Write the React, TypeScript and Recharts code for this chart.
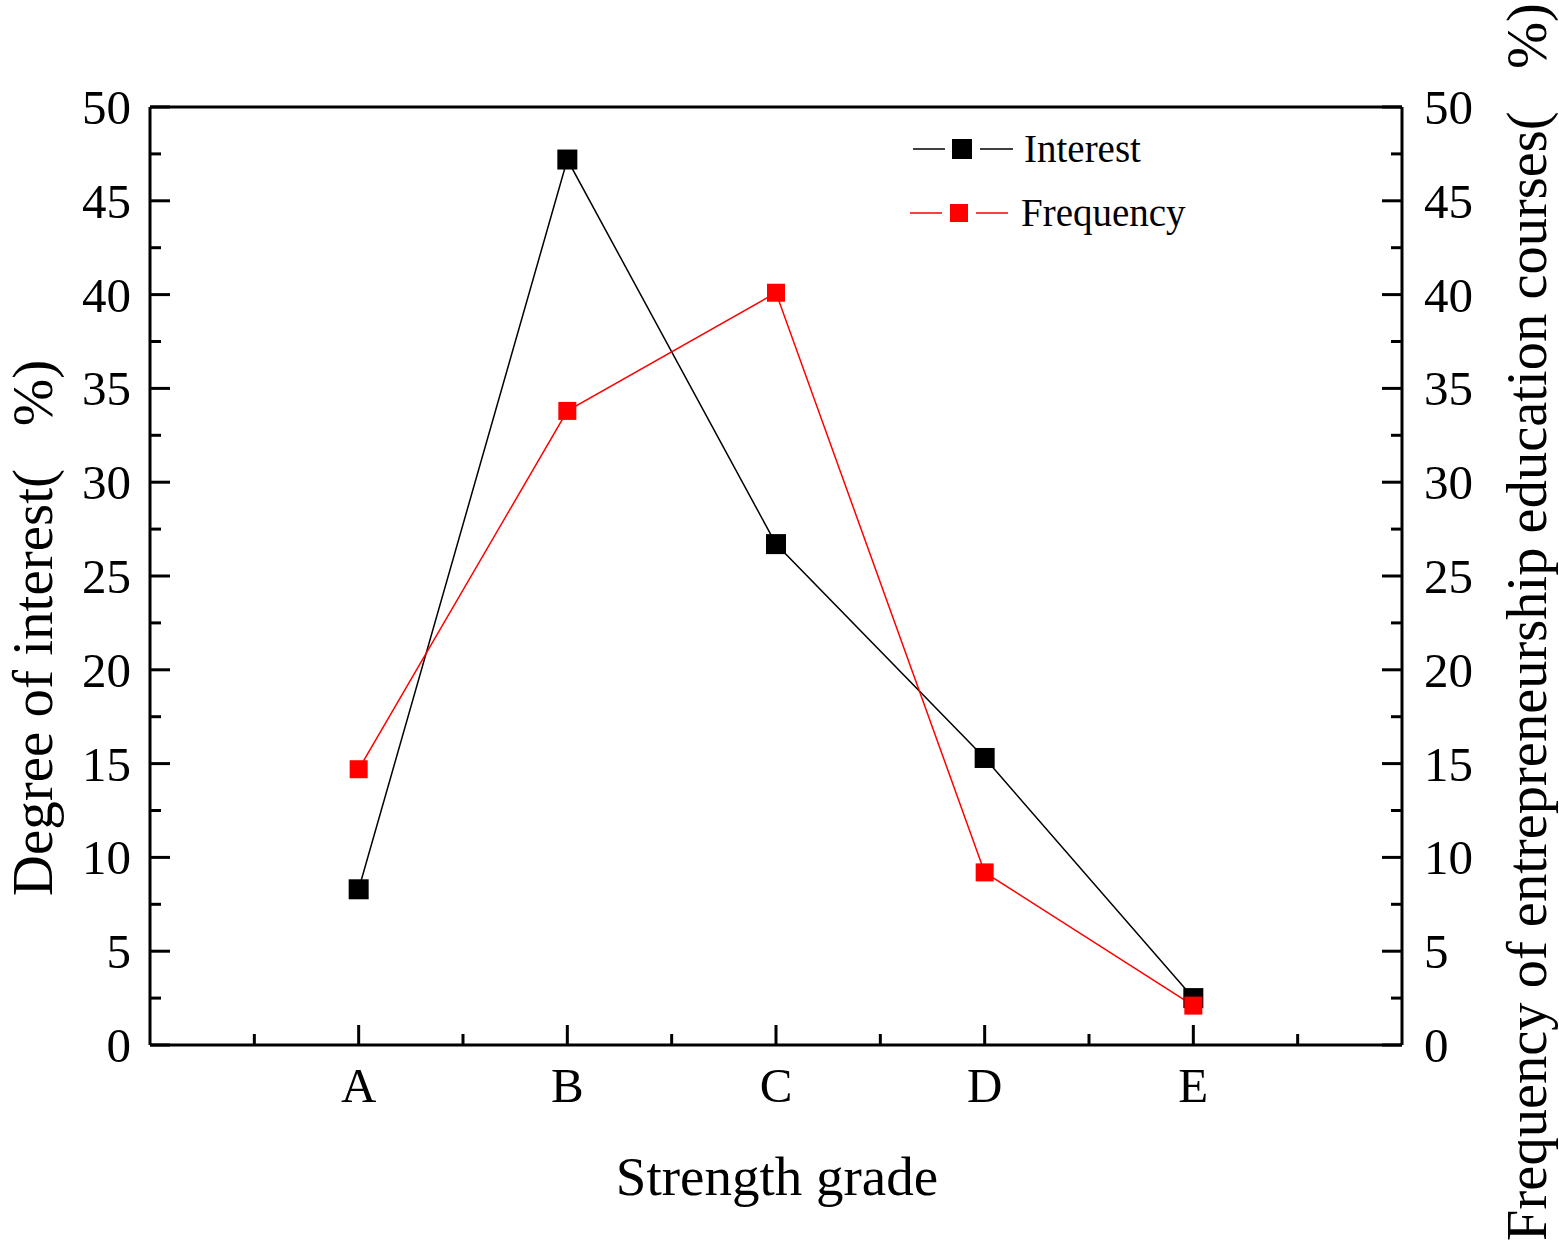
import React from 'react';
import { LineChart, Line, XAxis, YAxis, Legend, ReferenceLine } from 'recharts';

const categories = ['A', 'B', 'C', 'D', 'E'];
const interest = [8.3, 47.2, 26.7, 15.3, 2.5];
const frequency = [14.7, 33.8, 40.1, 9.2, 2.1];
const xTicks = [0.5, 1, 1.5, 2, 2.5, 3, 3.5, 4, 4.5, 5, 5.5];
const yTicks = [0, 2.5, 5, 7.5, 10, 12.5, 15, 17.5, 20, 22.5, 25, 27.5, 30, 32.5, 35, 37.5, 40, 42.5, 45, 47.5, 50];

const data = categories.map((c, i) => ({
  pos: i + 1,
  name: c,
  interest: interest[i],
  frequency: frequency[i],
}));

const FONT = '"Liberation Serif", "Times New Roman", serif';

const XTick = (props: any) => {
  const { x, y, payload } = props;
  const v = payload.value;
  const major = Number.isInteger(v);
  return (
    <g>
      <line x1={x} x2={x} y1={y} y2={y - (major ? 20 : 11)} stroke="#000" strokeWidth={3} />
      {major && (
        <text x={x} y={y + 57} textAnchor="middle" fontSize={49} fontFamily={FONT} fill="#000">
          {categories[v - 1]}
        </text>
      )}
    </g>
  );
};

const YTick = (props: any) => {
  const { x, y, payload, side } = props;
  const v = payload.value;
  const major = v % 5 === 0;
  const dir = side === 'left' ? 1 : -1;
  return (
    <g>
      <line x1={x} x2={x + dir * (major ? 20 : 11)} y1={y} y2={y} stroke="#000" strokeWidth={3} />
      {major && (
        <text
          x={side === 'left' ? x - 19 : x + 22}
          y={y + 17}
          textAnchor={side === 'left' ? 'end' : 'start'}
          fontSize={49}
          fontFamily={FONT}
          fill="#000"
        >
          {v}
        </text>
      )}
    </g>
  );
};

const squareDot = (size: number, color: string) => (props: any) => {
  const { cx, cy, index } = props;
  return <rect key={index} x={cx - size / 2} y={cy - size / 2} width={size} height={size} fill={color} />;
};

const renderLegend = () => (
  <svg width={320} height={130}>
    <line x1={13} x2={45} y1={39} y2={39} stroke="#000" strokeWidth={1.5} />
    <rect x={52} y={29} width={20} height={20} fill="#000" />
    <line x1={80} x2={113} y1={39} y2={39} stroke="#000" strokeWidth={1.5} />
    <text x={124} y={52} fontSize={39} fontFamily={FONT} fill="#000">Interest</text>
    <line x1={10} x2={42} y1={103} y2={103} stroke="#ff0000" strokeWidth={1.5} />
    <rect x={50} y={94} width={18} height={18} fill="#ff0000" />
    <line x1={76} x2={108} y1={103} y2={103} stroke="#ff0000" strokeWidth={1.5} />
    <text x={121} y={116} fontSize={39} fontFamily={FONT} fill="#000">Frequency</text>
  </svg>
);

export default function App() {
  return (
    <div style={{ position: 'absolute', left: 0, top: 0, width: 1559, height: 1252, background: '#fff' }}>
      <LineChart width={1559} height={1252} data={data} margin={{ top: 107, right: 0, bottom: 0, left: 0 }}>
        <XAxis
          dataKey="pos"
          type="number"
          domain={[0, 6]}
          ticks={xTicks}
          interval={0}
          height={207}
          tickSize={0}
          tickMargin={0}
          tick={<XTick />}
          axisLine={{ stroke: '#000', strokeWidth: 3 }}
          tickLine={false}
        />
        <YAxis
          yAxisId="left"
          orientation="left"
          domain={[0, 50]}
          ticks={yTicks}
          interval={0}
          width={150}
          tickSize={0}
          tickMargin={0}
          tick={<YTick side="left" />}
          axisLine={{ stroke: '#000', strokeWidth: 3 }}
          tickLine={false}
        />
        <YAxis
          yAxisId="right"
          orientation="right"
          domain={[0, 50]}
          ticks={yTicks}
          interval={0}
          width={157}
          tickSize={0}
          tickMargin={0}
          tick={<YTick side="right" />}
          axisLine={{ stroke: '#000', strokeWidth: 3 }}
          tickLine={false}
        />
        <ReferenceLine yAxisId="left" y={50} stroke="#000" strokeWidth={3} />
        <Line
          yAxisId="left"
          dataKey="interest"
          type="linear"
          stroke="#000"
          strokeWidth={1.5}
          dot={squareDot(20, '#000')}
          activeDot={false}
          isAnimationActive={false}
        />
        <Line
          yAxisId="right"
          dataKey="frequency"
          type="linear"
          stroke="#ff0000"
          strokeWidth={1.5}
          dot={squareDot(18, '#ff0000')}
          activeDot={false}
          isAnimationActive={false}
        />
        <Legend
          layout="vertical"
          align="center"
          verticalAlign="middle"
          content={renderLegend}
          wrapperStyle={{ position: 'absolute', left: 900, top: 110, width: 320, height: 130 }}
        />
        <text
          x={52}
          y={628}
          transform="rotate(-90, 52, 628)"
          textAnchor="middle"
          fontSize={57}
          fontFamily={FONT}
          fill="#000"
          style={{ whiteSpace: 'pre' }}
        >
          {'Degree of interest(   %)'}
        </text>
        <text
          x={1546}
          y={622}
          transform="rotate(-90, 1546, 622)"
          textAnchor="middle"
          fontSize={56.5}
          fontFamily={FONT}
          fill="#000"
          style={{ whiteSpace: 'pre' }}
        >
          {'Frequency of entrepreneurship education courses(   %)'}
        </text>
        <text x={777} y={1195} textAnchor="middle" fontSize={55} fontFamily={FONT} fill="#000">
          Strength grade
        </text>
      </LineChart>
    </div>
  );
}
